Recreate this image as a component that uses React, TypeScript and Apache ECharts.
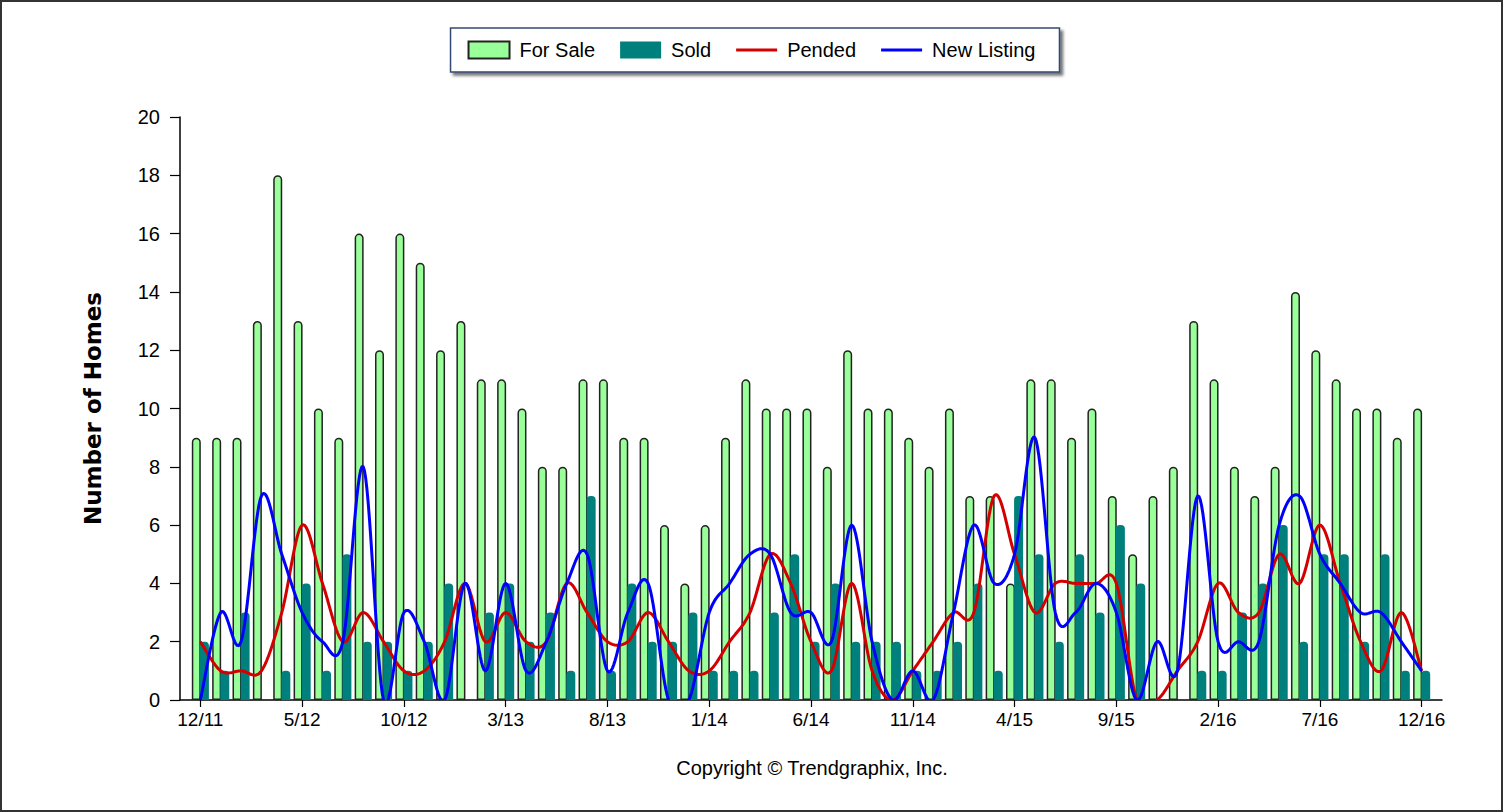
import React, { useEffect, useRef } from 'react';
import * as echarts from 'echarts';

const months = [
  '12/11',
  '1/12', '2/12', '3/12', '4/12', '5/12', '6/12', '7/12', '8/12', '9/12', '10/12', '11/12', '12/12',
  '1/13', '2/13', '3/13', '4/13', '5/13', '6/13', '7/13', '8/13', '9/13', '10/13', '11/13', '12/13',
  '1/14', '2/14', '3/14', '4/14', '5/14', '6/14', '7/14', '8/14', '9/14', '10/14', '11/14', '12/14',
  '1/15', '2/15', '3/15', '4/15', '5/15', '6/15', '7/15', '8/15', '9/15', '10/15', '11/15', '12/15',
  '1/16', '2/16', '3/16', '4/16', '5/16', '6/16', '7/16', '8/16', '9/16', '10/16', '11/16', '12/16',
];

const forSale = [
  9, 9, 9, 13, 18, 13, 10, 9, 16, 12,
  16, 15, 12, 13, 11, 11, 10, 8, 8, 11,
  11, 9, 9, 6, 4, 6, 9, 11, 10, 10,
  10, 8, 12, 10, 10, 9, 8, 10, 7, 7,
  4, 11, 11, 9, 10, 7, 5, 7, 8, 13,
  11, 8, 7, 8, 14, 12, 11, 10, 10, 9,
  10,
];

const sold = [
  2, 1, 3, 0, 1, 4, 1, 5, 2, 2,
  1, 2, 4, 0, 3, 4, 2, 3, 1, 7,
  1, 4, 2, 2, 3, 1, 1, 1, 3, 5,
  2, 4, 2, 2, 2, 1, 1, 2, 4, 1,
  7, 5, 2, 5, 3, 6, 4, 0, 0, 1,
  1, 3, 4, 6, 2, 5, 5, 2, 5, 1,
  1,
];

const pended = [
  2, 1, 1, 1, 3, 6, 4, 2, 3, 2,
  1, 1, 2, 4, 2, 3, 2, 2, 4, 3,
  2, 2, 3, 2, 1, 1, 2, 3, 5, 4,
  2, 1, 4, 1, 0, 1, 2, 3, 3, 7,
  5, 3, 4, 4, 4, 4, 0, 0, 1, 2,
  4, 3, 3, 5, 4, 6, 4, 2, 1, 3,
  1,
];

const newListing = [
  0, 3, 2, 7, 5, 3, 2, 2, 8, 0,
  3, 2, 0, 4, 1, 4, 1, 2, 4, 5,
  1, 3, 4, 0, 0, 3, 4, 5, 5, 3,
  3, 2, 6, 2, 0, 1, 0, 3, 6, 4,
  5, 9, 3, 3, 4, 3, 0, 2, 1, 7,
  2, 2, 2, 6, 7, 5, 4, 3, 3, 2,
  1,
];

const FONT = '"Liberation Sans", Arial, sans-serif';

// one empty slot on each side of the months so the first / last month sit inside the axis
const categories = ['', ...months, ''];
const pad = (arr: number[]) => ['-', ...arr, '-'];
const showIdx = (i: number) => i >= 1 && i <= months.length && (i - 1) % 5 === 0;

// Cardinal (Catmull-Rom) spline through the data points, positioned with the chart's own scales
const splineRenderer = (values: number[], color: string) => (params: any, api: any) => {
  if (params.dataIndex !== 0) return null;
  const pts: number[][] = values.map((v, i) => api.coord([i + 1, v]));
  const k = 1 / 6;
  const out: number[][] = [];
  for (let i = 0; i < pts.length - 1; i++) {
    const p0 = pts[i - 1] || pts[i];
    const p1 = pts[i];
    const p2 = pts[i + 1];
    const p3 = pts[i + 2] || pts[i + 1];
    const c1 = [p1[0] + (p2[0] - p0[0]) * k, p1[1] + (p2[1] - p0[1]) * k];
    const c2 = [p2[0] - (p3[0] - p1[0]) * k, p2[1] - (p3[1] - p1[1]) * k];
    const steps = 16;
    for (let s = 0; s < steps; s++) {
      const t = s / steps;
      const u = 1 - t;
      const a = u * u * u, b = 3 * u * u * t, c = 3 * u * t * t, d = t * t * t;
      out.push([
        a * p1[0] + b * c1[0] + c * c2[0] + d * p2[0],
        a * p1[1] + b * c1[1] + c * c2[1] + d * p2[1],
      ]);
    }
  }
  out.push(pts[pts.length - 1]);
  const cs = params.coordSys;
  return {
    type: 'group',
    clipPath: { type: 'rect', shape: { x: cs.x, y: cs.y - 5, width: cs.width, height: cs.height + 5 } },
    children: [
      {
        type: 'polyline',
        shape: { points: out },
        style: { stroke: color, lineWidth: 3, fill: null, lineJoin: 'round' },
      },
    ],
  };
};

export default function App() {
  const ref = useRef<HTMLDivElement>(null);
  useEffect(() => {
    document.body.style.margin = '0';
    const chart = echarts.init(ref.current!, null, { renderer: 'svg' });
    const option: any = {
      animation: false,
      backgroundColor: '#ffffff',
      textStyle: { fontFamily: FONT },
      legend: {
        left: 'center',
        top: 28,
        orient: 'horizontal',
        itemWidth: 41,
        itemHeight: 17,
        itemGap: 25,
        padding: [12, 24, 12, 17],
        backgroundColor: '#ffffff',
        borderColor: '#34496f',
        borderWidth: 1.5,
        shadowColor: 'rgba(0,0,0,0.55)',
        shadowBlur: 3,
        shadowOffsetX: 3,
        shadowOffsetY: 3,
        textStyle: { fontSize: 20, color: '#000', fontFamily: FONT, padding: [0, 0, 0, 5] },
        data: [
          { name: 'For Sale', icon: 'rect' },
          { name: 'Sold', icon: 'rect' },
          { name: 'Pended', icon: 'path://M0 0H41V3H0Z' },
          { name: 'New Listing', icon: 'path://M0 0H41V3H0Z' },
        ],
      },
      grid: { left: 180, right: 61, top: 117, bottom: 112, containLabel: false },
      xAxis: {
        type: 'category',
        data: categories,
        boundaryGap: false,
        axisLine: { show: true, lineStyle: { color: '#000', width: 1.5 } },
        axisTick: { show: true, length: 7, interval: showIdx, lineStyle: { color: '#000', width: 1.2 } },
        axisLabel: { interval: showIdx, fontSize: 19, color: '#000', margin: 10, fontFamily: FONT },
        splitLine: { show: false },
      },
      yAxis: {
        type: 'value',
        min: 0,
        max: 20,
        interval: 2,
        name: 'Number of Homes',
        nameLocation: 'middle',
        nameRotate: 90,
        nameGap: 76,
        nameTextStyle: { fontSize: 23, fontWeight: 'bold', color: '#000', fontFamily: '"DejaVu Sans", Verdana, sans-serif' },
        axisLine: { show: true, lineStyle: { color: '#000', width: 1.5 } },
        axisTick: { show: true, length: 10, lineStyle: { color: '#000', width: 1.2 } },
        axisLabel: { fontSize: 20, color: '#000', margin: 20, fontFamily: FONT },
        splitLine: { show: false },
      },
      series: [
        {
          name: 'For Sale',
          type: 'bar',
          data: pad(forSale),
          barWidth: 9,
          barGap: '-10%',
          itemStyle: { color: '#99ff99', borderColor: '#222', borderWidth: 1.5, borderRadius: [4, 4, 0, 0] },
          z: 2,
        },
        {
          name: 'Sold',
          type: 'bar',
          data: pad(sold),
          barWidth: 9,
          itemStyle: { color: '#00807c', borderRadius: [4, 4, 0, 0] },
          z: 3,
        },
        {
          name: 'Pended',
          type: 'custom',
          data: pended.map((v, i) => [i + 1, v]),
          encode: { x: 0, y: 1 },
          itemStyle: { color: '#d40000' },
          renderItem: splineRenderer(pended, '#d40000'),
          z: 4,
        },
        {
          name: 'New Listing',
          type: 'custom',
          data: newListing.map((v, i) => [i + 1, v]),
          encode: { x: 0, y: 1 },
          itemStyle: { color: '#0000ff' },
          renderItem: splineRenderer(newListing, '#0000ff'),
          z: 5,
        },
      ],
      graphic: [
        {
          type: 'text',
          x: 812,
          y: 768,
          style: {
            text: 'Copyright \u00a9 Trendgraphix, Inc.',
            align: 'center',
            verticalAlign: 'middle',
            fontSize: 20,
            fontFamily: FONT,
            fill: '#000',
          },
        },
        {
          type: 'rect',
          silent: true,
          z: 100,
          shape: { x: 1, y: 1, width: 1501, height: 810 },
          style: { fill: 'none', stroke: '#333', lineWidth: 2 },
        },
      ],
    };
    chart.setOption(option);
    return () => chart.dispose();
  }, []);
  return <div ref={ref} style={{ width: 1503, height: 812, background: '#fff' }} />;
}
